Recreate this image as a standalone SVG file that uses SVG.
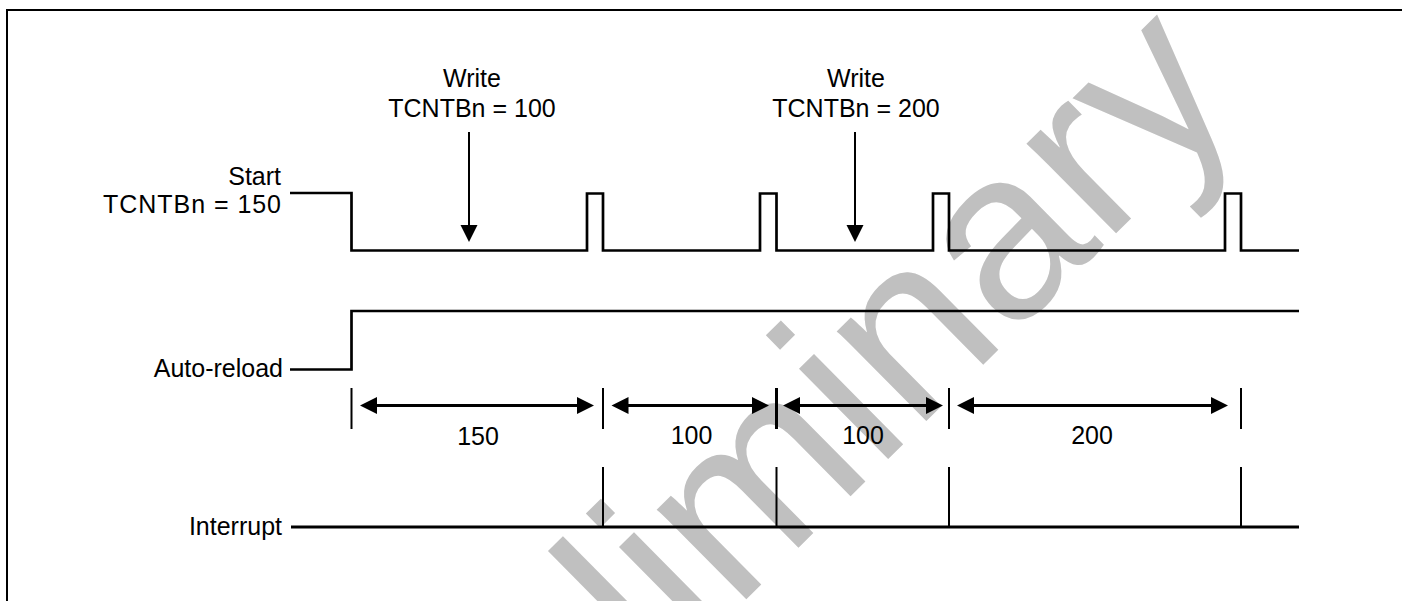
<svg xmlns="http://www.w3.org/2000/svg" width="1402" height="601" viewBox="0 0 1402 601">
<style>
text{font-family:"Liberation Sans",Arial,sans-serif;font-size:25px;fill:#000}
.wave{fill:none;stroke:#000;stroke-width:2.7}
.tick{stroke:#000;stroke-width:2}
.dim{stroke:#000;stroke-width:3}
.ah{fill:#000}
.wm{font-size:240px;fill:#c0c0c0}
</style>
<rect width="1402" height="601" fill="#fff"/>
<text class="wm" transform="translate(393.3,948.7) rotate(-44.7)">Preliminary</text>
<rect x="7" y="10" width="1420" height="620" fill="none" stroke="#000" stroke-width="2"/>
<g id="label-start">
<text x="281" y="185" text-anchor="end">Start</text>
<text x="281" y="213" text-anchor="end" textLength="178" lengthAdjust="spacing">TCNTBn = 150</text>
</g>
<g id="label-write100">
<text x="472" y="87" text-anchor="middle">Write</text>
<text x="472" y="116.5" text-anchor="middle">TCNTBn = 100</text>
</g>
<g id="label-write200">
<text x="856" y="87" text-anchor="middle">Write</text>
<text x="856" y="116.5" text-anchor="middle">TCNTBn = 200</text>
</g>
<g id="label-autoreload"><text x="283" y="377" text-anchor="end">Auto-reload</text></g>
<g id="label-interrupt"><text x="282" y="535" text-anchor="end">Interrupt</text></g>
<g id="timer-wave">
<path class="wave" d="M290,193 H351.5 V250.5 H587 V193.5 H603 V250.5 H760 V193.5 H776.5 V250.5 H933 V193.5 H949 V250.5 H1225 V193.5 H1241 V250.5 H1299"/>
</g>
<g id="autoreload-wave">
<path class="wave" d="M290,369.5 H351.5 V311 H1299"/>
</g>
<g id="interrupt-wave">
<line class="dim" x1="291" y1="527" x2="1299" y2="527"/>
<line class="tick" x1="603" y1="467" x2="603" y2="527"/>
<line class="tick" x1="776.5" y1="467" x2="776.5" y2="527"/>
<line class="tick" x1="949" y1="467" x2="949" y2="527"/>
<line class="tick" x1="1241" y1="467" x2="1241" y2="527"/>
</g>
<g id="connectors">
<line class="tick" x1="469" y1="132" x2="469" y2="226"/>
<path class="ah" d="M460.5,225 L477.5,225 L469,242 Z"/>
<line class="tick" x1="855" y1="132" x2="855" y2="226"/>
<path class="ah" d="M846.5,225 L863.5,225 L855,242 Z"/>
<line class="tick" x1="351.5" y1="388" x2="351.5" y2="429"/>
<line class="tick" x1="603" y1="388" x2="603" y2="429"/>
<line class="dim" x1="776.5" y1="388" x2="776.5" y2="429"/>
<line class="tick" x1="949" y1="388" x2="949" y2="429"/>
<line class="tick" x1="1241" y1="388" x2="1241" y2="429"/>
<line class="dim" x1="370" y1="405.5" x2="584" y2="405.5"/>
<path class="ah" d="M360,405.5 L377,397 L377,414 Z M594,405.5 L577,397 L577,414 Z"/>
<line class="dim" x1="621" y1="405.5" x2="759" y2="405.5"/>
<path class="ah" d="M611.5,405.5 L628.5,397 L628.5,414 Z M769,405.5 L752,397 L752,414 Z"/>
<line class="dim" x1="793" y1="405.5" x2="933" y2="405.5"/>
<path class="ah" d="M783,405.5 L800,397 L800,414 Z M943,405.5 L926,397 L926,414 Z"/>
<line class="dim" x1="967" y1="405.5" x2="1218" y2="405.5"/>
<path class="ah" d="M957,405.5 L974,397 L974,414 Z M1228,405.5 L1211,397 L1211,414 Z"/>
</g>
<g id="dim-labels">
<text x="478" y="445" text-anchor="middle">150</text>
<text x="691.5" y="444" text-anchor="middle">100</text>
<text x="863" y="444" text-anchor="middle">100</text>
<text x="1092" y="444" text-anchor="middle">200</text>
</g>
</svg>
